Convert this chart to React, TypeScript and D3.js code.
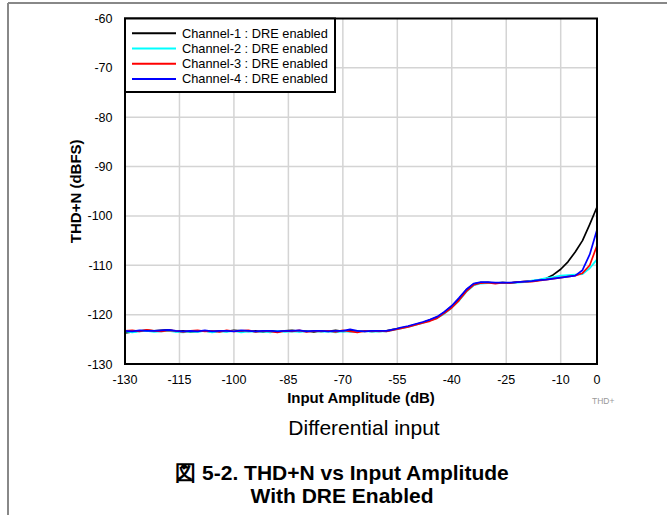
import React from "react";
import * as d3 from "d3";

const xValues = [-130,-128,-126,-124,-122,-120,-118,-116,-114,-112,-110,-108,-106,-104,-102,-100,-98,-96,-94,-92,-90,-88,-86,-84,-82,-80,-78,-76,-74,-72,-70,-68,-66,-64,-62,-60,-58,-56,-54,-52,-50,-48,-46,-44,-42,-40,-38,-36,-34,-32,-30,-28,-26,-24,-22,-20,-18,-16,-14,-12,-10,-8,-6,-4,-2,0];

const ch1 = [-123.7,-123.5,-123.3,-123.2,-123.3,-123.2,-123.1,-123.4,-123.3,-123.5,-123.4,-123.3,-123.5,-123.3,-123.4,-123.2,-123.3,-123.4,-123.3,-123.5,-123.3,-123.4,-123.3,-123.2,-123.4,-123.3,-123.5,-123.3,-123.4,-123.2,-123.4,-123.3,-123.3,-123.4,-123.3,-123.4,-123.3,
  -123.0,-122.7,-122.4,-122.0,-121.6,-121.1,-120.5,-119.5,-118.3,-116.8,-115.0,-113.8,-113.5,-113.5,-113.6,-113.5,-113.6,-113.4,-113.3,-113.2,-113.0,-112.7,-111.9,-110.8,-109.3,-107.3,-105.0,-101.7,-98.2];
const ch2 = [-123.4,-123.6,-123.4,-123.3,-123.5,-123.4,-123.3,-123.5,-123.6,-123.4,-123.5,-123.3,-123.6,-123.4,-123.5,-123.3,-123.6,-123.4,-123.5,-123.4,-123.6,-123.3,-123.5,-123.4,-123.5,-123.4,-123.3,-123.5,-123.4,-123.6,-123.4,-123.5,-123.4,-123.3,-123.5,-123.4,-123.4,
  -123.1,-122.8,-122.5,-122.1,-121.7,-121.2,-120.7,-119.8,-118.6,-117.2,-115.4,-114.1,-113.7,-113.6,-113.6,-113.5,-113.6,-113.5,-113.4,-113.1,-112.9,-112.6,-112.4,-112.1,-112.0,-111.9,-111.8,-110.6,-108.8];
const ch3 = [-123.3,-123.2,-123.4,-123.1,-123.3,-123.4,-123.2,-123.3,-123.5,-123.3,-123.2,-123.4,-123.3,-123.5,-123.2,-123.4,-123.3,-123.2,-123.5,-123.3,-123.4,-123.6,-123.3,-123.4,-123.2,-123.5,-123.3,-123.4,-123.3,-123.5,-123.2,-123.4,-123.6,-123.3,-123.4,-123.3,-123.4,
  -123.1,-122.8,-122.5,-122.1,-121.7,-121.3,-120.7,-119.7,-118.6,-117.1,-115.3,-114.0,-113.6,-113.5,-113.7,-113.5,-113.6,-113.4,-113.3,-113.3,-113.1,-112.9,-112.7,-112.5,-112.3,-112.1,-111.6,-110.0,-106.0];
const ch4 = [-123.3,-123.4,-123.2,-123.3,-123.3,-123.2,-123.1,-123.3,-123.4,-123.3,-123.4,-123.2,-123.4,-123.3,-123.3,-123.4,-123.2,-123.3,-123.4,-123.3,-123.3,-123.4,-123.3,-123.3,-123.2,-123.4,-123.3,-123.3,-123.4,-123.3,-123.3,-123.0,-123.3,-123.4,-123.3,-123.3,-123.3,
  -123.0,-122.6,-122.3,-121.9,-121.5,-121.0,-120.4,-119.4,-118.2,-116.6,-114.9,-113.7,-113.4,-113.4,-113.5,-113.5,-113.5,-113.4,-113.3,-113.2,-113.0,-112.9,-112.7,-112.5,-112.3,-112.1,-111.0,-107.8,-102.8];

const seriesNames = ["Channel-1 : DRE enabled","Channel-2 : DRE enabled","Channel-3 : DRE enabled","Channel-4 : DRE enabled"];
const seriesColors = ["#000000","#00ffff","#ff0000","#0000ff"];
const seriesData = [ch1, ch2, ch3, ch4];

const xTicks = [-130,-115,-100,-85,-70,-55,-40,-25,-10,0];
const yTicks = [-130,-120,-110,-100,-90,-80,-70,-60];

const xTitle = "Input Amplitude (dB)";
const yTitle = "THD+N (dBFS)";
const subTitle = "Differential input";
const titleLine1 = "図 5-2. THD+N vs Input Amplitude";
const titleLine2 = "With DRE Enabled";
const tagText = "THD+";

export default function App() {
  const W = 667, H = 515;
  const left = 125, right = 597, top = 18.5, bottom = 364;
  const x = d3.scaleLinear().domain([-130, 0]).range([left, right]);
  const y = d3.scaleLinear().domain([-130, -60]).range([bottom, top]);
  const line = d3.line<number>().x((_, i) => x(xValues[i])).y((d) => y(d));
  const font = "'Liberation Sans', Arial, Helvetica, sans-serif";
  const plotCx = (left + right) / 2;
  const figCx = 342;
  return (
    <svg width={W} height={H} style={{ position: "absolute", left: 0, top: 0 }} fontFamily={font}>
      <rect x={0} y={0} width={W} height={H} fill="#fff" />
      <line x1={8} y1={3} x2={W} y2={3} stroke="#888" strokeWidth={2} />
      <line x1={8} y1={3} x2={8} y2={H} stroke="#888" strokeWidth={2} />
      {xTicks.filter((t) => t !== -130 && t !== 0).map((t) => (
        <line key={"gx" + t} x1={x(t)} x2={x(t)} y1={top} y2={bottom} stroke="#d4d4d4" strokeWidth={1.5} />
      ))}
      {yTicks.filter((t) => t !== -130 && t !== -60).map((t) => (
        <line key={"gy" + t} x1={left} x2={right} y1={y(t)} y2={y(t)} stroke="#d4d4d4" strokeWidth={1.5} />
      ))}
      {seriesData.map((s, k) => (
        <path key={"s" + k} d={line(s) || ""} fill="none" stroke={seriesColors[k]} strokeWidth={1.7} strokeLinejoin="round" />
      ))}
      <rect x={left} y={top} width={right - left} height={bottom - top} fill="none" stroke="#000" strokeWidth={2} />
      {xTicks.map((t) => (
        <text key={"tx" + t} x={x(t)} y={384} fontSize={12.5} textAnchor="middle" fill="#000">{t}</text>
      ))}
      {yTicks.map((t) => (
        <text key={"ty" + t} x={112.5} y={y(t) + 4.5} fontSize={12.5} textAnchor="end" fill="#000">{t}</text>
      ))}
      <text x={plotCx} y={403} fontSize={15} fontWeight="bold" textAnchor="middle">{xTitle}</text>
      <text transform={`translate(80.5,${(top + bottom) / 2}) rotate(-90)`} fontSize={15} fontWeight="bold" textAnchor="middle">{yTitle}</text>
      <text x={592} y={403.5} fontSize={8.5} fill="#999">{tagText}</text>
      <text x={plotCx + 3} y={435} fontSize={21} textAnchor="middle">{subTitle}</text>
      <text x={figCx} y={480} fontSize={21} fontWeight="bold" textAnchor="middle">{titleLine1}</text>
      <text x={figCx} y={503} fontSize={21} fontWeight="bold" textAnchor="middle">{titleLine2}</text>
      <g>
        <rect x={left} y={top} width={210} height={73.5} fill="#fff" stroke="#000" strokeWidth={2} />
        {seriesNames.map((n, k) => (
          <g key={"lg" + k}>
            <line x1={132} x2={176} y1={33.3 + k * 15.2} y2={33.3 + k * 15.2} stroke={seriesColors[k]} strokeWidth={2} />
            <text x={182} y={37.8 + k * 15.2} fontSize={12.8}>{n}</text>
          </g>
        ))}
      </g>
    </svg>
  );
}
